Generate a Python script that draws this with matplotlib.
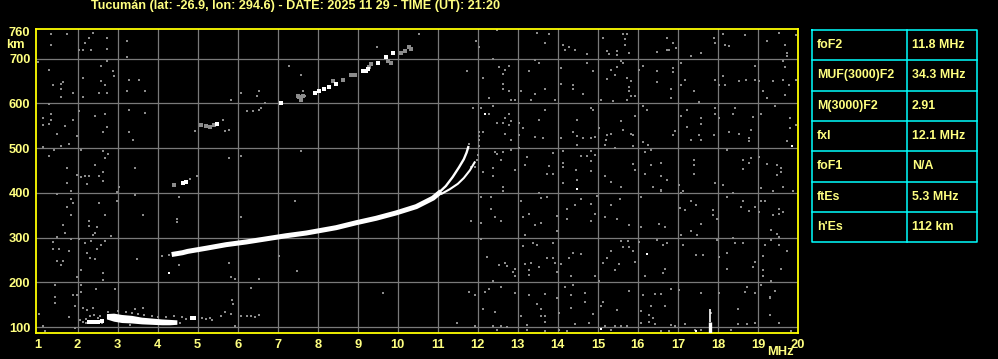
import matplotlib
matplotlib.use("Agg")
import matplotlib.pyplot as plt

plt.rcParams["font.family"] = ["Liberation Sans", "DejaVu Sans"]
plt.rcParams["font.weight"] = "bold"

YEL = "#ffff80"
BORDER = "#ffff00"
CYAN = "#00ffff"
GRID = "#7a7a7a"
NOISE = "#8c8c8c"

# --- datos del ionograma (frecuencia MHz, altura km) ---
title = "Tucumán (lat: -26.9, lon: 294.6) - DATE: 2025 11 29 - TIME (UT): 21:20"

table_params = ["foF2", "MUF(3000)F2", "M(3000)F2", "fxI", "foF1", "ftEs", "h'Es"]
table_values = ["11.8 MHz", "34.3 MHz", "2.91", "12.1 MHz", "N/A", "5.3 MHz", "112 km"]

x_ticks = list(range(1, 21))
y_ticks = [100, 200, 300, 400, 500, 600, 700, 760]

# traza F2 ordinaria (parte gruesa)
f2_f = [4.35, 4.62, 4.75, 5.21, 5.71, 6.21, 6.71, 7.21, 7.71, 8.21, 8.46, 8.96, 9.46, 9.96, 10.46, 10.88, 11.08]
f2_h = [262, 266, 269, 276, 284, 290, 297, 304, 310, 318, 322, 333, 343, 355, 369, 388, 403]
# cúspide: rama O y rama X
cusp_o_f = [11.0, 11.2, 11.37, 11.53, 11.65, 11.72, 11.76]
cusp_o_h = [398, 415, 435, 457, 475, 490, 502]
cusp_x_f = [11.1, 11.3, 11.5, 11.65, 11.8, 11.92]
cusp_x_h = [398, 408, 420, 433, 450, 468]

# segundo salto (2F)
hop2_white_f = [7.92, 8.03, 8.15, 8.29, 8.46, 9.13, 9.2, 9.25, 9.5, 9.71, 9.88, 5.48, 7.08, 4.63, 4.7]
hop2_white_h = [623, 628, 632, 637, 642, 672, 673, 676, 690, 703, 713, 554, 601, 422, 423]
hop2_gray_f = [8.38, 8.63, 8.83, 8.94, 9.29, 9.33, 9.75, 9.83, 10.08, 10.17, 10.29, 10.33,
               7.5, 7.54, 7.58, 7.63, 5.08, 5.2, 5.3, 5.4, 4.42]
hop2_gray_h = [650, 651, 664, 664, 681, 687, 694, 689, 713, 716, 725, 722,
               616, 614, 608, 616, 552, 550, 547, 552, 418]

# capa E / Es
e_f = [2.72, 2.9, 3.1, 3.35, 3.6, 3.85, 4.1, 4.3, 4.48]
e_top = [130, 131, 128, 126, 122, 120, 118, 117, 116]
e_bot = [118, 113, 110, 109, 107, 106, 105, 105, 106]
e_dots_f = [2.28, 2.36, 2.44, 2.52, 2.6, 4.85, 4.92]
e_dots_h = [112, 112, 112, 112, 113, 120, 121]

# interferencia en 17.8 MHz
spike_f = 17.8
spike_h = [87, 112, 140]

white_dots_f = [12.17, 14.49, 15.08, 19.86, 16.23, 4.29, 17.46]
white_dots_h = [575, 408, 95, 504, 264, 220, 91]

# ruido gris (f, h)
noise_1_4 = [(1.33, 754), (1.73, 754), (2.38, 758), (1.33, 730), (2.28, 745), (2.19, 735), (2.73, 745),
             (2.33, 720), (2.03, 718), (2.13, 718), (2.73, 722), (3.23, 740), (3.23, 704), (1.0, 693),
             (1.29, 675), (2.73, 694), (2.58, 684), (2.88, 672), (2.9, 662), (2.13, 657), (1.63, 648),
             (1.38, 640), (1.58, 643), (1.58, 631), (2.58, 649), (2.69, 640), (1.88, 622), (2.54, 622),
             (2.73, 622), (1.58, 613), (2.13, 613), (3.28, 653), (3.53, 653), (3.23, 627), (3.68, 627),
             (1.29, 599), (1.33, 576), (1.13, 567), (1.33, 563), (1.13, 552), (1.28, 554), (2.03, 582),
             (2.43, 572), (2.68, 576), (1.88, 563), (1.69, 549), (2.73, 546), (2.63, 536), (1.48, 531),
             (1.98, 527), (3.28, 586), (3.68, 578), (3.28, 536), (3.38, 518), (1.78, 509), (1.13, 503),
             (1.58, 504), (1.42, 496), (1.28, 483), (2.08, 496), (2.63, 494), (2.75, 487), (2.68, 478),
             (1.73, 455), (2.43, 461), (1.98, 440), (2.08, 435), (2.18, 438), (2.28, 438), (2.54, 438),
             (2.63, 446), (2.63, 427), (2.23, 420), (1.73, 422), (1.83, 404), (3.03, 413), (3.43, 455),
             (1.48, 397), (2.98, 401), (3.43, 396), (1.83, 386), (1.88, 377), (2.54, 378), (2.99, 382),
             (1.73, 369), (1.83, 351), (2.68, 351), (3.63, 351), (2.28, 337), (2.28, 325), (2.48, 323),
             (1.63, 329), (1.69, 311), (2.44, 311), (2.38, 305), (2.83, 303), (1.48, 301), (1.83, 296),
             (2.03, 296), (1.38, 291), (1.38, 275), (1.53, 275), (1.78, 270), (2.19, 287), (2.33, 293),
             (2.58, 284), (2.68, 293), (2.48, 275), (2.23, 265), (2.32, 255), (2.43, 252), (1.48, 248),
             (1.63, 248), (1.58, 239), (2.08, 228), (3.48, 252), (2.63, 220), (1.98, 211), (2.64, 204),
             (2.93, 185), (2.46, 185), (2.08, 194), (2.08, 179), (1.43, 194), (1.43, 167), (1.43, 153),
             (1.88, 172), (1.98, 172), (1.94, 147), (2.13, 142), (2.23, 137), (2.38, 143), (1.03, 129),
             (1.78, 123), (1.13, 102), (1.19, 91), (1.94, 97), (3.43, 140), (3.63, 142),
             (4.11, 259), (4.29, 261), (4.53, 239), (4.48, 341), (4.48, 334), (4.53, 390)]
noise_e = [(2.13, 112), (2.2, 118), (2.5, 121), (2.55, 125), (2.75, 133), (3.0, 135), (3.2, 133),
           (3.35, 131), (3.5, 130), (3.65, 126), (3.85, 125), (4.0, 123), (4.2, 122), (4.4, 124),
           (4.6, 122), (4.7, 118), (5.1, 120), (5.2, 118), (5.3, 120), (5.35, 116), (2.3, 124),
           (2.4, 126), (2.2, 110), (2.05, 116), (2.55, 113), (2.6, 110), (3.3, 104), (4.55, 110)]
noise_5_8 = [(7.28, 684), (7.58, 664), (6.53, 628), (6.48, 617), (6.08, 622), (5.83, 608), (6.23, 582),
             (6.38, 582), (6.53, 586), (6.58, 590), (6.68, 601), (7.63, 627), (7.68, 617), (5.63, 563),
             (5.78, 541), (5.68, 537), (4.93, 537), (5.78, 478), (6.08, 483), (7.58, 494), (4.98, 438),
             (7.43, 382), (6.08, 346), (5.78, 243), (7.03, 259), (7.48, 226), (5.83, 212), (5.93, 208),
             (6.53, 208), (6.33, 187), (5.85, 161), (5.88, 151), (5.83, 129), (5.68, 133), (5.58, 125),
             (6.08, 125), (6.23, 125), (6.33, 125), (6.43, 123), (6.53, 127), (5.93, 102), (4.8, 430)]
noise_9_12 = [(10.53, 754), (9.48, 726), (11.96, 740), (12.03, 726), (11.73, 672), (12.13, 657),
              (11.88, 590), (12.08, 590), (12.03, 536), (12.13, 536), (12.03, 526), (12.02, 519),
              (11.79, 509), (12.02, 504), (12.0, 485), (11.98, 474), (12.13, 446), (11.83, 457),
              (11.92, 457), (12.08, 390), (11.83, 337), (12.08, 333), (12.08, 296), (9.63, 176),
              (11.79, 179), (11.94, 172), (12.17, 179), (12.13, 140), (11.48, 108), (11.94, 103)]
noise_13_16 = [(12.48, 763), (13.48, 758), (13.78, 754), (13.68, 735), (14.13, 731), (14.28, 726),
               (14.18, 718), (14.43, 718), (14.73, 711), (15.13, 745), (15.63, 754), (15.73, 754),
               (15.68, 743), (15.68, 731), (15.23, 716), (15.28, 711), (15.48, 716), (15.48, 709),
               (15.78, 713), (12.38, 700), (12.54, 681), (12.78, 684), (12.68, 675), (12.63, 666),
               (12.63, 644), (12.63, 631), (12.78, 627), (12.83, 608), (12.93, 608), (12.28, 612),
               (13.08, 628), (13.28, 672), (13.53, 689), (13.43, 696), (13.68, 631), (13.43, 621),
               (13.33, 608), (13.93, 608), (14.08, 679), (14.08, 643), (14.38, 640), (14.38, 631),
               (14.63, 620), (14.73, 689), (14.88, 672), (15.23, 655), (15.33, 675), (15.43, 664),
               (15.48, 681), (15.58, 694), (15.63, 689), (15.73, 657), (15.83, 649), (15.78, 636),
               (15.78, 627), (15.83, 616), (15.73, 608), (15.38, 605), (15.08, 608), (15.93, 617),
               (12.38, 595), (12.28, 575), (12.67, 567), (12.78, 576), (12.83, 560), (12.78, 552),
               (12.48, 555), (12.63, 555), (12.68, 531), (12.83, 519), (13.03, 556), (13.13, 545),
               (13.03, 528), (13.43, 525), (13.63, 522), (13.53, 563), (13.68, 586), (14.08, 522),
               (14.38, 536), (14.48, 526), (14.48, 506), (14.48, 563), (14.63, 522), (14.83, 590),
               (14.88, 586), (14.93, 525), (14.83, 522), (15.03, 545), (15.23, 528), (15.33, 531),
               (15.2, 519), (15.18, 506), (15.58, 560), (15.63, 541), (15.83, 531), (15.88, 528),
               (15.93, 572), (15.88, 505), (15.43, 500), (12.44, 491), (12.48, 487), (12.63, 491),
               (12.59, 474), (12.83, 496), (12.38, 455), (12.38, 437), (12.63, 414), (12.63, 405),
               (12.93, 452), (13.03, 499), (13.23, 479), (13.18, 461), (13.78, 459), (13.88, 489),
               (13.73, 443), (13.88, 443), (14.13, 494), (14.13, 466), (14.13, 457), (14.13, 422),
               (14.46, 452), (14.48, 429), (14.58, 483), (14.73, 483), (14.83, 493), (14.93, 485),
               (14.83, 470), (14.83, 448), (15.18, 438), (15.33, 424), (15.58, 412), (15.88, 464),
               (15.93, 452), (12.33, 390), (12.33, 364), (12.58, 337), (12.42, 346), (13.08, 382),
               (13.58, 388), (13.73, 390), (13.28, 353), (13.13, 346), (13.44, 329), (13.58, 332),
               (13.18, 306), (13.53, 399), (13.98, 347), (13.98, 315), (14.23, 364), (14.23, 342),
               (14.43, 373), (14.58, 387), (14.83, 376), (14.93, 352), (14.83, 337), (14.98, 392),
               (15.18, 346), (15.33, 373), (15.48, 341), (15.54, 387), (15.78, 329), (12.23, 256),
               (12.53, 239), (12.68, 243), (12.73, 237), (12.88, 222), (12.93, 230), (12.93, 213),
               (12.38, 203), (13.13, 282), (13.38, 287), (13.48, 284), (13.18, 241), (13.33, 243),
               (13.53, 233), (13.28, 228), (13.28, 217), (13.73, 254), (13.88, 287), (13.88, 254),
               (13.93, 243), (13.98, 222), (14.08, 241), (14.28, 254), (14.38, 265), (14.58, 263),
               (14.33, 213), (14.93, 213), (15.02, 203), (15.13, 243), (15.23, 255), (15.33, 269),
               (15.43, 228), (15.53, 241), (15.58, 293), (15.75, 293), (15.63, 278), (15.78, 278),
               (15.93, 246), (15.88, 269), (12.58, 190), (12.28, 185), (12.93, 176), (13.28, 172),
               (13.48, 151), (13.68, 174), (13.58, 141), (13.98, 165), (14.18, 190), (14.38, 194),
               (14.33, 172), (14.68, 176), (14.68, 155), (14.33, 142), (14.03, 131), (14.88, 129),
               (15.08, 147), (15.13, 155), (15.48, 138), (15.78, 181), (12.43, 133), (13.08, 125),
               (13.58, 125), (13.68, 125), (13.68, 111), (13.23, 105), (12.38, 103), (12.58, 103),
               (12.73, 100), (12.48, 94), (13.23, 94), (13.67, 90), (14.03, 94), (14.23, 91),
               (14.43, 107), (14.79, 108), (15.19, 103), (15.43, 103), (15.58, 103), (15.73, 103),
               (15.32, 94)]
noise_16_20 = [(16.73, 746), (16.88, 735), (16.48, 715), (16.73, 720), (16.77, 718), (16.96, 724),
               (17.33, 705), (17.58, 713), (18.13, 755), (17.9, 745), (17.93, 735), (18.18, 731),
               (18.28, 728), (18.68, 752), (19.23, 740), (19.53, 757), (19.68, 731), (19.73, 713),
               (19.73, 705), (19.96, 752), (16.03, 675), (16.13, 684), (16.48, 672), (16.48, 647),
               (16.88, 679), (16.88, 669), (16.83, 632), (16.83, 611), (17.08, 690), (17.18, 653),
               (17.08, 640), (17.39, 627), (17.53, 602), (17.93, 653), (18.13, 661), (18.03, 640),
               (18.18, 640), (18.52, 649), (18.7, 653), (18.93, 684), (18.93, 651), (19.02, 649),
               (19.13, 627), (19.23, 611), (19.38, 649), (19.63, 694), (19.68, 681), (19.63, 653),
               (19.68, 619), (19.78, 640), (19.94, 653), (16.13, 595), (16.23, 586), (17.08, 572),
               (17.23, 586), (17.58, 566), (17.58, 554), (17.23, 546), (16.93, 539), (16.88, 530),
               (17.53, 528), (17.33, 519), (17.58, 519), (17.9, 530), (17.93, 576), (17.93, 590),
               (18.03, 567), (18.43, 590), (18.38, 576), (18.28, 536), (18.52, 531), (18.83, 541),
               (18.87, 569), (18.78, 522), (18.77, 515), (19.08, 576), (19.43, 595), (19.79, 567),
               (19.79, 545), (19.94, 552), (19.73, 515), (16.25, 506), (16.13, 513), (16.33, 496),
               (16.18, 491), (16.58, 466), (16.33, 461), (16.18, 443), (16.58, 438), (16.73, 429),
               (16.38, 413), (16.58, 403), (17.03, 418), (17.08, 399), (17.39, 474), (17.39, 461),
               (17.39, 443), (17.93, 422), (18.13, 418), (18.23, 496), (18.63, 474), (18.83, 478),
               (18.63, 454), (18.78, 466), (19.02, 481), (19.23, 464), (19.48, 461), (19.58, 455),
               (19.58, 446), (19.48, 440), (19.63, 413), (19.08, 411), (19.38, 403), (19.88, 403),
               (16.08, 390), (16.58, 407), (17.12, 403), (17.33, 382), (17.44, 373), (17.17, 362),
               (17.04, 367), (17.88, 362), (17.88, 351), (17.98, 341), (18.23, 390), (18.38, 399),
               (18.63, 382), (18.58, 368), (18.77, 360), (18.93, 368), (19.08, 382), (19.18, 382),
               (19.02, 356), (19.38, 351), (19.53, 353), (19.53, 364), (19.63, 356), (19.33, 317),
               (19.48, 308), (19.53, 301), (16.08, 323), (16.53, 330), (16.68, 323), (17.33, 314),
               (17.58, 330), (17.48, 306), (17.08, 306), (16.03, 289), (16.48, 295), (16.73, 287),
               (16.63, 284), (17.13, 284), (17.44, 261), (17.63, 261), (17.98, 294), (18.38, 299),
               (18.43, 287), (18.63, 287), (18.03, 256), (18.23, 265), (18.23, 230), (18.93, 246),
               (18.87, 235), (19.13, 258), (19.13, 228), (19.13, 213), (19.18, 284), (19.33, 295),
               (19.53, 284), (19.73, 269), (19.58, 230), (16.18, 215), (16.63, 220), (16.68, 230),
               (16.83, 185), (17.03, 183), (17.58, 176), (18.03, 176), (18.68, 179), (18.73, 190),
               (18.93, 176), (19.08, 194), (19.33, 202), (19.43, 181), (19.29, 166), (16.13, 172),
               (16.43, 173), (16.58, 173), (16.33, 147), (16.68, 147), (16.08, 135), (16.27, 126),
               (16.37, 120), (16.08, 110), (16.27, 112), (16.42, 106), (16.83, 105), (16.93, 103),
               (17.18, 106), (17.43, 94), (17.58, 94), (18.5, 140), (18.5, 106), (18.73, 107),
               (18.93, 108), (19.29, 126), (19.29, 164), (19.53, 108), (19.83, 91), (16.58, 91),
               (16.78, 91), (18.33, 94), (17.83, 131)]

# --- figura ---
W, H = 998, 359
fig = plt.figure(figsize=(W / 100, H / 100), dpi=100, facecolor="black")
ax = fig.add_axes([36 / W, (H - 333) / H, 762 / W, 304 / H])
ax.set_facecolor("black")
ax.set_xlim(0.96, 20.0)
ax.set_ylim(86.6, 766)

for f in range(2, 20):
    ax.axvline(f, color=GRID, lw=0.9, zorder=1)
for h in range(100, 800, 100):
    ax.axhline(h, color=GRID, lw=0.9, zorder=1)

for grupo in [noise_1_4, noise_e, noise_5_8, noise_9_12, noise_13_16, noise_16_20]:
    nf, nh = zip(*grupo)
    ax.plot(nf, nh, "s", ms=1.9, mew=0, color=NOISE, zorder=2)

ax.plot(hop2_gray_f, hop2_gray_h, "s", ms=2.2, mew=0, color=NOISE, zorder=2)
ax.plot(hop2_white_f, hop2_white_h, "s", ms=2.6, mew=0, color="white", zorder=3)

ax.plot(f2_f, f2_h, color="white", lw=3.6, solid_capstyle="butt", zorder=3)
ax.plot(cusp_o_f, cusp_o_h, color="white", lw=1.7, zorder=3)
ax.plot(cusp_x_f, cusp_x_h, color="white", lw=1.5, zorder=3)

ax.fill_between(e_f, e_bot, e_top, color="white", lw=0, zorder=3)
ax.plot(e_dots_f, e_dots_h, "s", ms=2.6, mew=0, color="white", zorder=3)
ax.plot(white_dots_f, white_dots_h, "s", ms=2.0, mew=0, color="white", zorder=3)

ax.vlines(spike_f, spike_h[0], spike_h[1], color="white", lw=2.4, zorder=3)
ax.vlines(spike_f, spike_h[1], spike_h[2], color="white", lw=1.2, zorder=3)

for s in ax.spines.values():
    s.set_color(BORDER)
    s.set_linewidth(1.3)

ax.set_xticks(x_ticks)
ax.set_yticks(y_ticks)
ax.tick_params(length=0, colors=YEL, labelsize=9.3)
ax.tick_params(axis="x", pad=4.5)
ax.tick_params(axis="y", pad=4)
for lab in ax.get_xticklabels() + ax.get_yticklabels():
    lab.set_fontweight("bold")

fig.text(6 / W, 1 - 45 / H, "km", color=YEL, fontsize=9.3, fontweight="bold", ha="left", va="center")
fig.text(780 / W, 1 - 352 / H, "MHz", color=YEL, fontsize=9.3, fontweight="bold", ha="center", va="center")
fig.text(91 / W, 1 - 6 / H, title, color=YEL, fontsize=9.1, fontweight="bold", ha="left", va="center")

# tabla de parámetros
ov = fig.add_axes([0, 0, 1, 1])
ov.set_xlim(0, W)
ov.set_ylim(H, 0)
ov.axis("off")
ov.patch.set_alpha(0)
x0, x1, xm = 812, 977, 907
y0, row_h = 30, 30.33
n = len(table_params)
ov.plot([x0, x1, x1, x0, x0], [y0, y0, y0 + n * row_h, y0 + n * row_h, y0], color=CYAN, lw=1.1)
ov.plot([xm, xm], [y0, y0 + n * row_h], color=CYAN, lw=1.1)
for i in range(1, n):
    ov.plot([x0, x1], [y0 + i * row_h, y0 + i * row_h], color=CYAN, lw=1.1)
for i, (p, v) in enumerate(zip(table_params, table_values)):
    yc = y0 + (i + 0.5) * row_h
    ov.text(817, yc, p, color=YEL, fontsize=8.9, fontweight="bold", ha="left", va="center")
    ov.text(912, yc, v, color=YEL, fontsize=8.9, fontweight="bold", ha="left", va="center")

fig.savefig("out.png", dpi=100, facecolor="black")
